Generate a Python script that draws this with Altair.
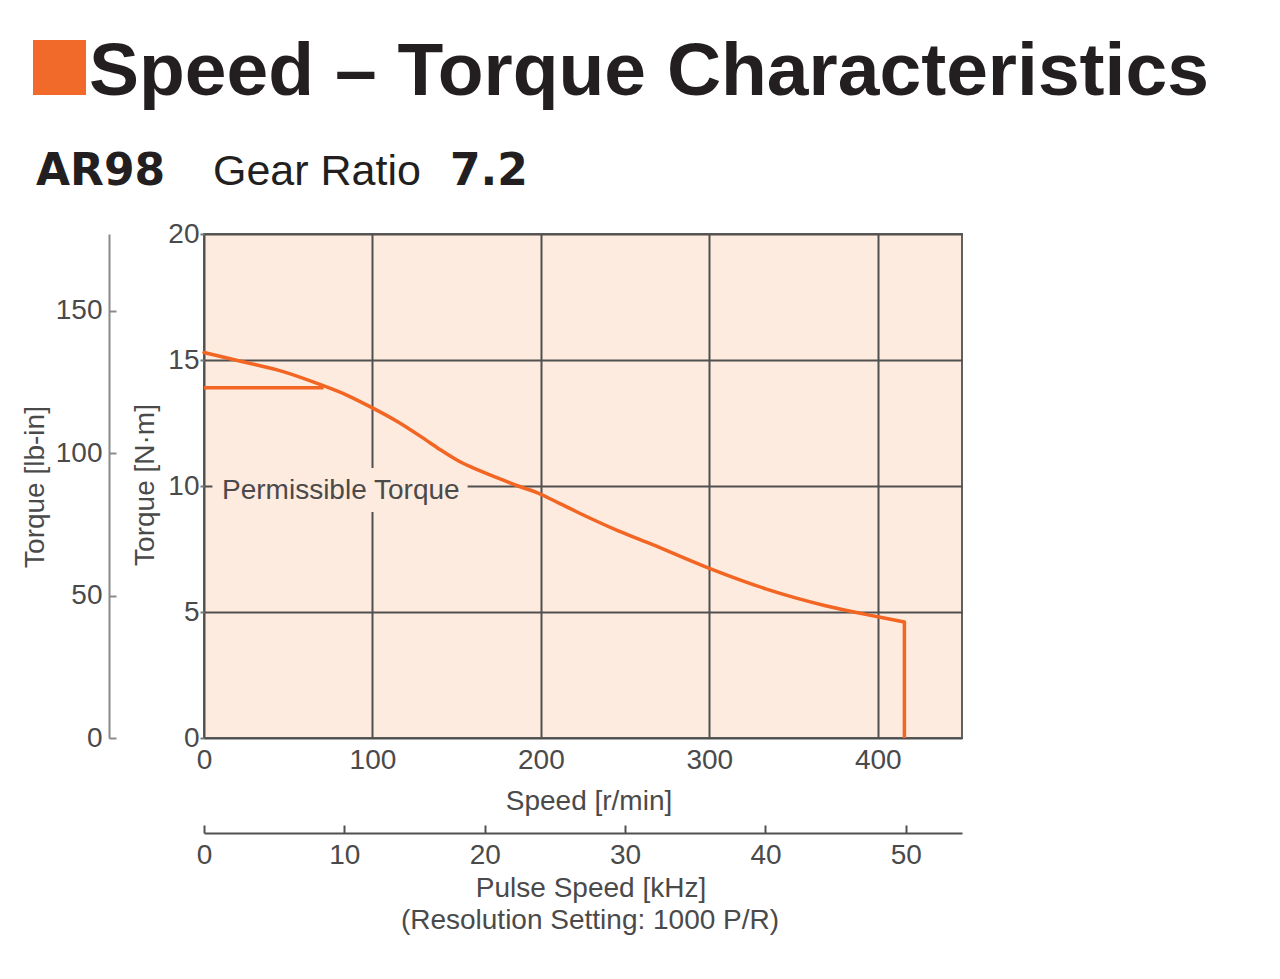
import altair as alt
import pandas as pd

# ---- data ----
speed = [0, 23, 47, 70, 85, 100, 115, 129, 140, 152, 164, 175, 187, 199, 211, 223,
         246, 266, 300, 333, 369, 400, 415.8]
torque = [15.3, 14.93, 14.54, 14.0, 13.6, 13.1, 12.55, 11.95, 11.45, 10.96, 10.6, 10.3,
          9.99, 9.7, 9.31, 8.92, 8.22, 7.68, 6.73, 5.93, 5.25, 4.81, 4.6]
drop_speed = [415.8, 415.8]
drop_torque = [4.6, 0.0]
perm_speed = [0, 71]
perm_torque = [13.9, 13.9]

speed_ticks = [0, 100, 200, 300, 400]
torque_ticks = [0, 5, 10, 15, 20]
lbin_ticks = [0, 50, 100, 150]
pulse_ticks = [0, 10, 20, 30, 40, 50]

speed_domain = [0, 450]
torque_domain = [0, 20]
lbin_domain = [0, 177.0]
pulse_domain = [0, 54]

# ---- styles ----
NARROW = "Liberation Sans"
SANS = "Liberation Sans"
LBL = "#4a4a4a"
DARK = "#231f20"
ORANGE = "#F26522"
BG = "#FDEBDF"
GRID = "#505050"
W, H = 758, 504
FS = 28
LW = 3.5

sx = alt.Scale(domain=speed_domain, nice=False, zero=False)
sy = alt.Scale(domain=torque_domain, nice=False, zero=False)

ax_x = alt.Axis(values=speed_ticks, grid=True, gridColor=GRID, gridWidth=2, ticks=False,
               tickSize=0, domain=False, labelFont=NARROW, labelFontSize=FS,
               labelColor=LBL, labelPadding=8, labelFlush=False, title=None)
ax_y = alt.Axis(values=torque_ticks, grid=True, gridColor=GRID, gridWidth=2, ticks=True,
               tickSize=4, tickWidth=2, tickColor="#777777", domain=False,
               labelFont=NARROW, labelFontSize=FS, labelColor=LBL, labelPadding=1,
               labelFlush=False, title=None)


def X(f):
    return alt.X(f, type="quantitative", scale=sx, axis=ax_x)


def Y(f):
    return alt.Y(f, type="quantitative", scale=sy, axis=ax_y)


curve_df = pd.DataFrame({"speed": speed, "torque": torque})
drop_df = pd.DataFrame({"speed": drop_speed, "torque": drop_torque, "i": [0, 1]})
perm_df = pd.DataFrame({"speed": perm_speed, "torque": perm_torque, "i": [0, 1]})
label_df = pd.DataFrame({"speed": [10.7], "torque": [10.0], "t": ["Permissible Torque"],
                         "s2": [156.5], "lo": [8.97], "hi": [10.71], "s1": [5.0]})

label_bg = alt.Chart(label_df).mark_rect(fill=BG).encode(
    x=X("s1"), x2="s2", y=Y("lo"), y2="hi")
label_txt = alt.Chart(label_df).mark_text(
    align="left", baseline="middle", font=NARROW, fontSize=FS, color=LBL, dy=5
).encode(x=X("speed"), y=Y("torque"), text="t:N")
perm_line = alt.Chart(perm_df).mark_line(color=ORANGE, strokeWidth=LW).encode(
    x=X("speed"), y=Y("torque"), order="i:Q")
curve = alt.Chart(curve_df).mark_line(color=ORANGE, strokeWidth=LW, interpolate="monotone",
                                      strokeCap="round").encode(x=X("speed"), y=Y("torque"))
drop = alt.Chart(drop_df).mark_line(color=ORANGE, strokeWidth=LW).encode(
    x=X("speed"), y=Y("torque"), order="i:Q")

main = alt.layer(label_bg, label_txt, perm_line, curve, drop)

# secondary torque axis (lb-in)
lb_df = pd.DataFrame({"lb": lbin_domain})
lb_layer = alt.Chart(lb_df).mark_point(opacity=0).encode(
    y=alt.Y("lb:Q", scale=alt.Scale(domain=lbin_domain, nice=False, zero=False),
            axis=alt.Axis(orient="right", offset=-(W + 95), values=lbin_ticks,
                          domainColor="#8a8a8a", domainWidth=2, tickColor="#8a8a8a",
                          tickWidth=2, tickSize=7, labelAlign="right", labelPadding=-14,
                          labelBaseline="middle", labelFont=NARROW, labelFontSize=FS,
                          labelColor=LBL, labelFlush=False, grid=False, title=None))
)

# pulse speed axis
pulse_df = pd.DataFrame({"khz": pulse_domain})
pulse_layer = alt.Chart(pulse_df).mark_point(opacity=0).encode(
    x=alt.X("khz:Q", scale=alt.Scale(domain=pulse_domain, nice=False, zero=False),
            axis=alt.Axis(orient="top", offset=-599, values=pulse_ticks,
                          domainColor="#505050", domainWidth=2, tickColor="#505050",
                          tickWidth=2, tickSize=8, labelBaseline="top", labelPadding=-16,
                          labelFont=NARROW, labelFontSize=FS, labelColor=LBL,
                          labelFlush=False, grid=False, title=None))
)


def txt(s, x, y, font, size, color=LBL, weight="normal", align="center",
        baseline="alphabetic", angle=0):
    d = pd.DataFrame({"t": [s]})
    return alt.Chart(d).mark_text(font=font, fontSize=size, color=color, fontWeight=weight,
                                  align=align, baseline=baseline, angle=angle).encode(
        x=alt.value(x), y=alt.value(y), text="t:N")


ox, oy = 204, 234  # page position of plot origin
square = alt.Chart(pd.DataFrame({"a": [1]})).mark_rect(color="#F26A2A").encode(
    x=alt.value(33 - ox), x2=alt.value(86 - ox), y=alt.value(40 - oy), y2=alt.value(95 - oy))

texts = [
    txt("Speed – Torque Characteristics", 89 - ox, 95 - oy, SANS, 75, DARK, "bold", "left"),
    txt("AR98", 36 - ox, 185 - oy, "DejaVu Sans", 44, DARK, "bold", "left"),
    txt("Gear Ratio", 213 - ox, 185 - oy, SANS, 43, DARK, "normal", "left"),
    txt("7.2", 450 - ox, 185 - oy, "DejaVu Sans", 44, DARK, "bold", "left"),
    txt("Speed [r/min]", 589 - ox, 810 - oy, NARROW, FS),
    txt("Pulse Speed [kHz]", 591 - ox, 897 - oy, NARROW, FS),
    txt("(Resolution Setting: 1000 P/R)", 590 - ox, 929 - oy, NARROW, FS),
    txt("Torque [N·m]", 146 - ox, 485 - oy, NARROW, FS, baseline="middle", angle=270),
    txt("Torque [lb-in]", 36 - ox, 487 - oy, NARROW, FS, baseline="middle", angle=270),
]

chart = alt.layer(main, lb_layer, pulse_layer, square, *texts).resolve_scale(
    x="independent", y="independent"
).properties(
    width=W, height=H,
    padding={"left": ox - 8, "top": oy - 8, "right": 1280 - 8 - ox - W - 10,
             "bottom": 979 - 8 - oy - H - 10},
    autosize=alt.AutoSizeParams(type="none"),
    background="white",
).configure_view(fill=BG, stroke="#606060", strokeWidth=2)

chart.save("out.html", embed_options={"renderer": "svg", "actions": False})
